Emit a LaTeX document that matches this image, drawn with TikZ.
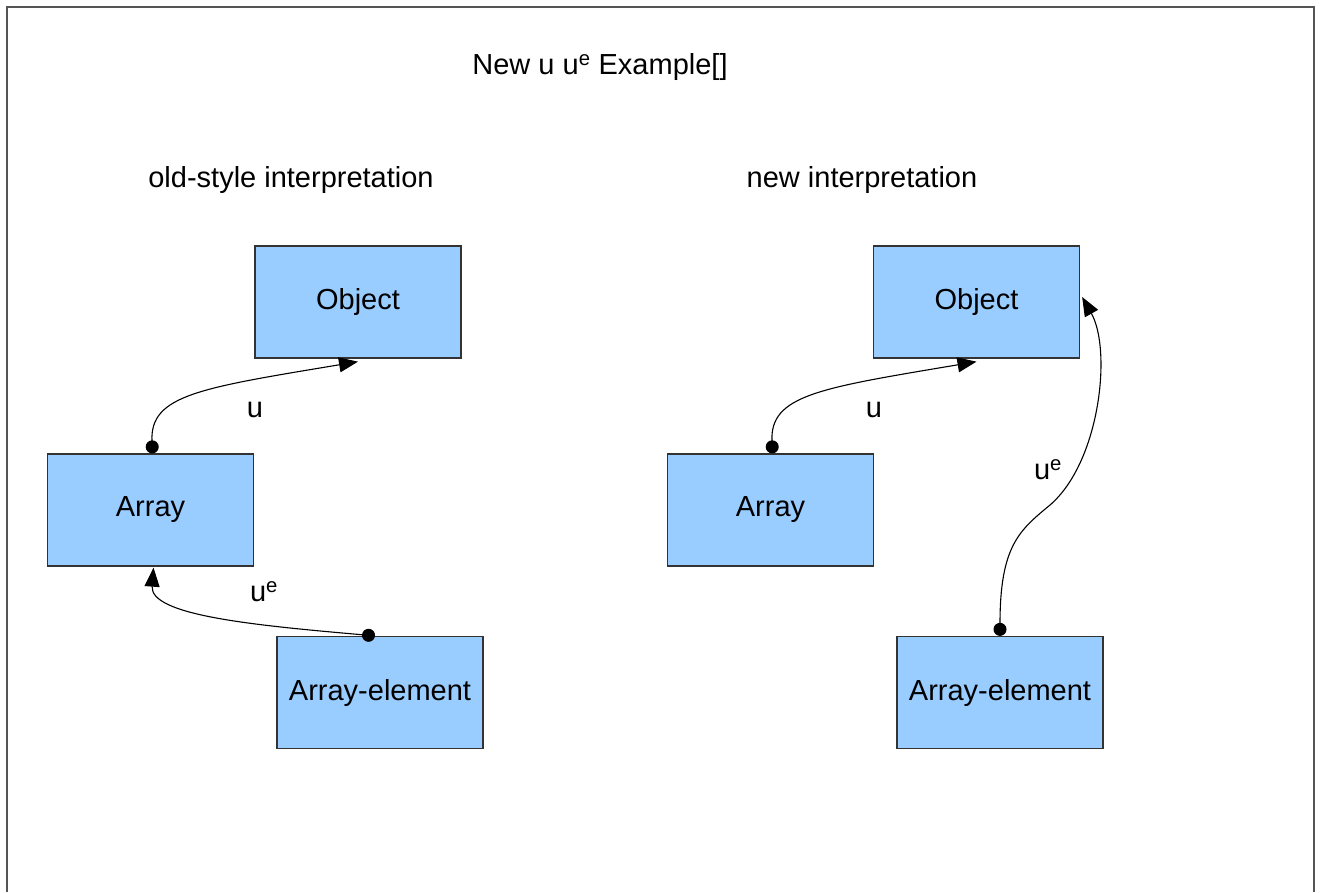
\documentclass[tikz,border=0pt]{standalone}
\usepackage{fontspec}
\setmainfont{Liberation Sans}
\usetikzlibrary{arrows.meta}
\definecolor{boxblue}{HTML}{99CCFF}
\definecolor{framegray}{HTML}{555555}
\begin{document}
\begin{tikzpicture}[x=1pt,y=-1pt,
  txt/.style={font=\fontsize{29}{34}\selectfont, inner sep=0pt},
  classbox/.style={draw=black!80, fill=boxblue, line width=1.3pt,
    minimum width=206pt, minimum height=112pt, inner sep=0pt,
    font=\fontsize{29}{34}\selectfont},
  link/.style={line width=1.1pt,
    {Circle[length=13pt]}-{Triangle[length=19pt,width=15pt]}}]
\useasboundingbox (0,0) rectangle (1320,892);
% page frame
\draw[framegray, line width=2pt] (7,892) -- (7,7) -- (1314,7) -- (1314,892);

% headings
\node[txt] (title) at (600,67) {New u u\textsuperscript{e} Example[]};
\node[txt] (oldhead) at (291,180) {old-style interpretation};
\node[txt] (newhead) at (862,180) {new interpretation};

% old-style interpretation
\node[classbox] (lobj) at (358,302) {Object};
\node[classbox] (larr) at (150.5,510) {Array};
\node[classbox] (lel)  at (380,692.5) {Array-element};

\draw[link] ([xshift=2pt]larr.north) .. controls (150,395) and (200,388) .. ([yshift=-3pt]lobj.south);
\draw[link] ([xshift=-5pt]lel.north) .. controls (250,625) and (150,615) .. ([xshift=3pt,yshift=-1pt]larr.south);
\node[txt] (lu) at (255,410) {u};
\node[txt] (lue) at (264,592) {u\textsuperscript{e}};

% new interpretation
\node[classbox] (robj) at (976.5,302) {Object};
\node[classbox] (rarr) at (770.5,510) {Array};
\node[classbox] (rel)  at (1000,692.5) {Array-element};

\draw[link] ([xshift=2pt]rarr.north) .. controls (770,395) and (820,388) .. ([yshift=-3pt]robj.south);
\draw[link] (rel.north) .. controls (1000,545) and (1020,530) .. (1050,505)
  .. controls (1100,462) and (1112,350) .. ([xshift=2pt,yshift=5pt]robj.east);
\node[txt] (ru) at (874,410) {u};
\node[txt] (rue) at (1048,470) {u\textsuperscript{e}};
\end{tikzpicture}
\end{document}
